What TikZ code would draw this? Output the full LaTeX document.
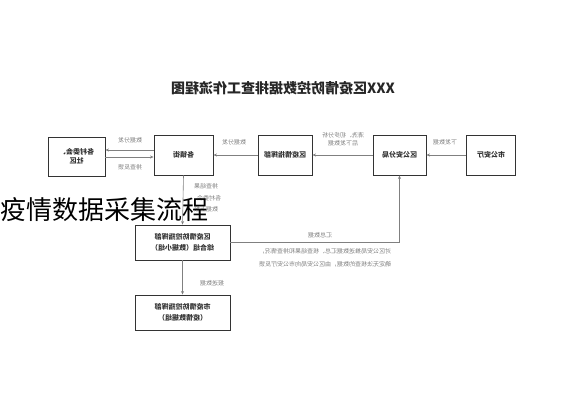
\documentclass[tikz,border=0pt]{standalone}
\usepackage{fontspec}
\newfontfamily\cjk{Noto Sans CJK SC}
\usetikzlibrary{arrows.meta}
\begin{document}
\begin{tikzpicture}[x=1pt,y=-1pt,
  box/.style={align=center, draw=black!80, line width=0.9pt, inner sep=0pt, font=\cjk\fontsize{7}{9}\selectfont\bfseries, text=black!80},
  lab/.style={align=center, inner sep=0pt, font=\cjk\fontsize{6}{8}\selectfont, text=black!50},
  arr/.style={draw=black!50, line width=0.6pt, -{Stealth[length=3.5pt,width=3pt]}}]
\useasboundingbox (0,0) rectangle (565,400);
% the whole chart is shown mirrored, as in the reference
\begin{scope}[transform canvas={xshift=565pt, xscale=-1}]
\node[font=\cjk\fontsize{14}{16}\selectfont\bfseries, text=black!85, inner sep=0pt] (title) at (282,88) {XXX区疫情防控数据排查工作流程图};
% boxes
\node[box, minimum width=57pt, minimum height=39pt] (cun) at (488.5,156.5) {各村委会、\\社区};
\node[box, minimum width=59pt, minimum height=40pt] (zj) at (381.5,155) {各镇街};
\node[box, minimum width=54pt, minimum height=40pt] (zh) at (280,155) {区疫情指挥部};
\node[box, minimum width=53pt, minimum height=40pt] (ga) at (165.5,155) {区公安分局};
\node[box, minimum width=49pt, minimum height=40pt] (st) at (74,155) {市公安厅};
\node[box, minimum width=95pt, minimum height=35pt, font=\cjk\fontsize{7}{11}\selectfont\bfseries] (zhz) at (382.5,242.5) {区疫情防控指挥部\\综合组（数据小组）};
\node[box, minimum width=95pt, minimum height=35pt, font=\cjk\fontsize{7}{11}\selectfont\bfseries] (shi) at (382.5,312.5) {市疫情防控指挥部\\（疫情数据组）};
% connectors
\draw[arr] (st.east) -- (ga.west);
\draw[arr] (ga.east) -- (zh.west);
\draw[arr] (zh.east) -- (zj.west);
\draw[arr] (zj.east |- 0,150) -- (cun.west |- 0,150);
\draw[arr] (cun.west |- 0,157) -- (zj.east |- 0,157);
\draw[arr] (zj.south) -- (zhz.north);
\draw[arr] (zhz.west) -| (ga.south);
\draw[arr] (zhz.south) -- (shi.north);
% labels
\node[lab] (l1) at (120,142) {下发数据};
\node[lab] (l2) at (222,139) {清洗、初步分析\\后下发数据};
\node[lab] (l3) at (331,142) {数据分发};
\node[lab] (l4) at (435,140) {数据分发};
\node[lab] (l5) at (435,167) {排查反馈};
\node[lab, font=\cjk\fontsize{6}{11.5}\selectfont] (l6) at (359,198) {排查结果\\各村委会、\\数据上报};
\node[lab] (l7) at (245,235) {汇总数据};
\node[lab, font=\cjk\fontsize{6}{12.5}\selectfont] (l8) at (240,258) {对区公安局推送数据汇总、核查结果和排查情况，\\确定无法核查的数据，由区公安局向市公安厅反馈};
\node[lab] (l9) at (353,283) {报送数据};
\end{scope}
% overlay caption (not mirrored)
\node[font=\cjk\fontsize{26}{28}\selectfont, text=black, inner sep=0pt, anchor=west] (cap) at (0,210) {疫情数据采集流程};
\end{tikzpicture}
\end{document}
